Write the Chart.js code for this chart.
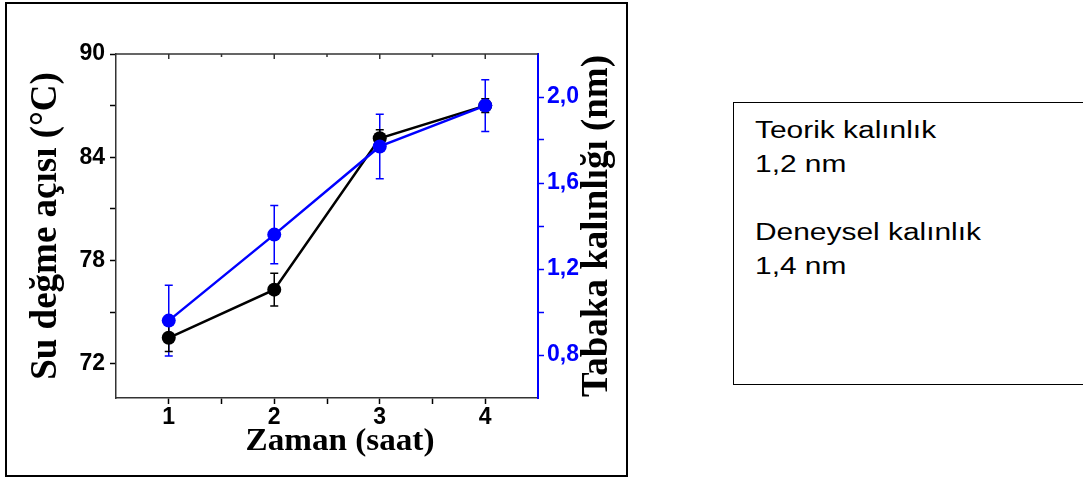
<!DOCTYPE html>
<html>
<head>
<meta charset="utf-8">
<script src="https://cdn.jsdelivr.net/npm/chart.js@4"></script>
<style>
  body { margin: 0; background: #fff; width: 1083px; height: 480px; overflow: hidden; position: relative; }
  #wrap { position: absolute; left: 0; top: 0; width: 640px; height: 480px; }
  #frame { position: absolute; left: 5px; top: 2px; width: 623px; height: 475px; border: 2px solid #000; box-sizing: border-box; pointer-events: none; }
  #note { position: absolute; left: 733px; top: 102px; width: 400px; height: 283px; border: 1.5px solid #000; box-sizing: border-box;
          padding: 10px 0 0 21px; color: #000; }
  #note div { font-family: 'Liberation Sans', Arial, sans-serif; font-size: 23px; line-height: 34px;
              transform: scaleX(1.3); transform-origin: 0 0; white-space: nowrap; }
</style>
</head>
<body>
<div id="wrap"><canvas id="chart" width="640" height="480"></canvas></div>
<div id="frame"></div>
<div id="note"><div>Teorik kalınlık<br>1,2 nm<br><br>Deneysel kalınlık<br>1,4 nm</div></div>
<script>
var zaman = [1, 2, 3, 4];
var temasAcisi = [73.5, 76.3, 85.1, 87.0];
var temasHata = [0.8, 0.95, 0.5, 0.4];
var kalinlik = [0.96, 1.36, 1.77, 1.96];
var kalinlikHata = [0.165, 0.135, 0.15, 0.12];

var xTikler = [1, 1.5, 2, 2.5, 3, 3.5, 4];
var solTikler = [72, 75, 78, 81, 84, 87, 90];
var solEtiketler = [72, 78, 84, 90];
var sagTikler = [0.8, 1.0, 1.2, 1.4, 1.6, 1.8, 2.0];
var sagEtiketler = [0.8, 1.2, 1.6, 2.0];

var BLUE = '#0000ff';
var tickFont = { family: "'Liberation Sans', Arial, sans-serif", size: 23, weight: 'bold' };
var titleFamily = "'Liberation Serif', 'Times New Roman', serif";

function points(ys) {
  return zaman.map(function(x, i) { return { x: x, y: ys[i] }; });
}

// vertical error bars, drawn through the dataset's own scales
var errorBars = {
  id: 'errorBars',
  beforeDatasetsDraw: function(chart) {
    var ctx = chart.ctx;
    chart.data.datasets.forEach(function(ds) {
      if (!ds.errors) return;
      var xs = chart.scales.x;
      var ys = chart.scales[ds.yAxisID];
      ctx.save();
      ctx.strokeStyle = ds.borderColor;
      ctx.lineWidth = 1.5;
      ds.data.forEach(function(p, j) {
        var e = ds.errors[j];
        var px = xs.getPixelForValue(p.x);
        var top = ys.getPixelForValue(p.y + e);
        var bot = ys.getPixelForValue(p.y - e);
        ctx.beginPath();
        ctx.moveTo(px, top); ctx.lineTo(px, bot);
        ctx.moveTo(px - 4, top); ctx.lineTo(px + 4, top);
        ctx.moveTo(px - 4, bot); ctx.lineTo(px + 4, bot);
        ctx.stroke();
      });
      ctx.restore();
    });
  }
};

// top frame line with inward ticks, the x title (a bit wide) and the right title (reads bottom to top)
var frameExtras = {
  id: 'frameExtras',
  afterDraw: function(chart) {
    var ctx = chart.ctx;
    var a = chart.chartArea;
    var xs = chart.scales.x;
    ctx.save();
    ctx.strokeStyle = '#333';
    ctx.lineWidth = 1.5;
    ctx.beginPath();
    ctx.moveTo(a.left, a.top);
    ctx.lineTo(a.right, a.top);
    xTikler.forEach(function(v) {
      var px = xs.getPixelForValue(v);
      ctx.moveTo(px, a.top);
      ctx.lineTo(px, a.top + (v % 1 === 0 ? 5 : 3));
    });
    ctx.stroke();
    ctx.restore();

    ctx.save();
    ctx.translate(340, 450);
    ctx.scale(1.07, 1);
    ctx.font = 'bold 31px ' + titleFamily;
    ctx.fillStyle = '#000';
    ctx.textAlign = 'center';
    ctx.textBaseline = 'alphabetic';
    ctx.fillText('Zaman (saat)', 0, 0);
    ctx.restore();

    ctx.save();
    ctx.translate(597, (a.top + a.bottom) / 2);
    ctx.rotate(-Math.PI / 2);
    ctx.font = 'bold 37px ' + titleFamily;
    ctx.fillStyle = '#000';
    ctx.textAlign = 'center';
    ctx.textBaseline = 'middle';
    ctx.fillText('Tabaka kalınlığı (nm)', 0, 0);
    ctx.restore();
  }
};

var chart = new Chart(document.getElementById('chart').getContext('2d'), {
  type: 'line',
  data: {
    datasets: [
      {
        label: 'Tabaka kalınlığı',
        data: points(kalinlik),
        errors: kalinlikHata,
        yAxisID: 'y2',
        borderColor: BLUE,
        backgroundColor: BLUE,
        borderWidth: 2.5,
        pointRadius: 7,
        pointBorderWidth: 0,
        order: 1
      },
      {
        label: 'Su değme açısı',
        data: points(temasAcisi),
        errors: temasHata,
        yAxisID: 'y',
        borderColor: '#000',
        backgroundColor: '#000',
        borderWidth: 2.5,
        pointRadius: 7,
        pointBorderWidth: 0,
        order: 2
      }
    ]
  },
  options: {
    responsive: false,
    animation: false,
    layout: { padding: { left: 20, top: 54, right: 0, bottom: 20 } },
    plugins: { legend: { display: false }, tooltip: { enabled: false } },
    scales: {
      x: {
        type: 'linear',
        min: 0.5,
        max: 4.5,
        afterBuildTicks: function(s) { s.ticks = xTikler.map(function(v) { return { value: v }; }); },
        afterFit: function(s) { s.height = 62; },
        ticks: {
          color: '#000',
          font: tickFont,
          padding: 0,
          autoSkip: false,
          maxRotation: 0,
          callback: function(v) { return v % 1 === 0 ? String(v) : ''; }
        },
        grid: { drawOnChartArea: false, tickLength: 6, tickColor: '#000', tickWidth: 1.5 },
        border: { color: '#333', width: 1.5 }
      },
      y: {
        position: 'left',
        min: 70,
        max: 90,
        afterBuildTicks: function(s) { s.ticks = solTikler.map(function(v) { return { value: v }; }); },
        afterFit: function(s) { s.width = 96; },
        ticks: {
          color: '#000',
          font: tickFont,
          padding: 5,
          autoSkip: false,
          callback: function(v) { return solEtiketler.indexOf(v) >= 0 ? String(v) : ''; }
        },
        grid: { drawOnChartArea: false, tickLength: 6, tickColor: '#000', tickWidth: 1.5 },
        border: { color: '#333', width: 1.5 },
        title: {
          display: true,
          text: 'Su değme açısı (°C)',
          color: '#000',
          font: { family: titleFamily, size: 37, weight: 'bold' },
          padding: { top: 4, bottom: 0 }
        }
      },
      y2: {
        position: 'right',
        min: 0.6,
        max: 2.2,
        afterBuildTicks: function(s) { s.ticks = sagTikler.map(function(v) { return { value: v }; }); },
        afterFit: function(s) { s.width = 102; },
        ticks: {
          color: BLUE,
          font: tickFont,
          padding: 3,
          autoSkip: false,
          callback: function(v) {
            var hit = sagEtiketler.some(function(t) { return Math.abs(t - v) < 1e-6; });
            return hit ? v.toFixed(1).replace('.', ',') : '';
          }
        },
        grid: { drawOnChartArea: false, tickLength: 6, tickColor: BLUE, tickWidth: 1.5 },
        border: { color: BLUE, width: 2 }
      }
    }
  },
  plugins: [errorBars, frameExtras]
});
</script>
</body>
</html>
